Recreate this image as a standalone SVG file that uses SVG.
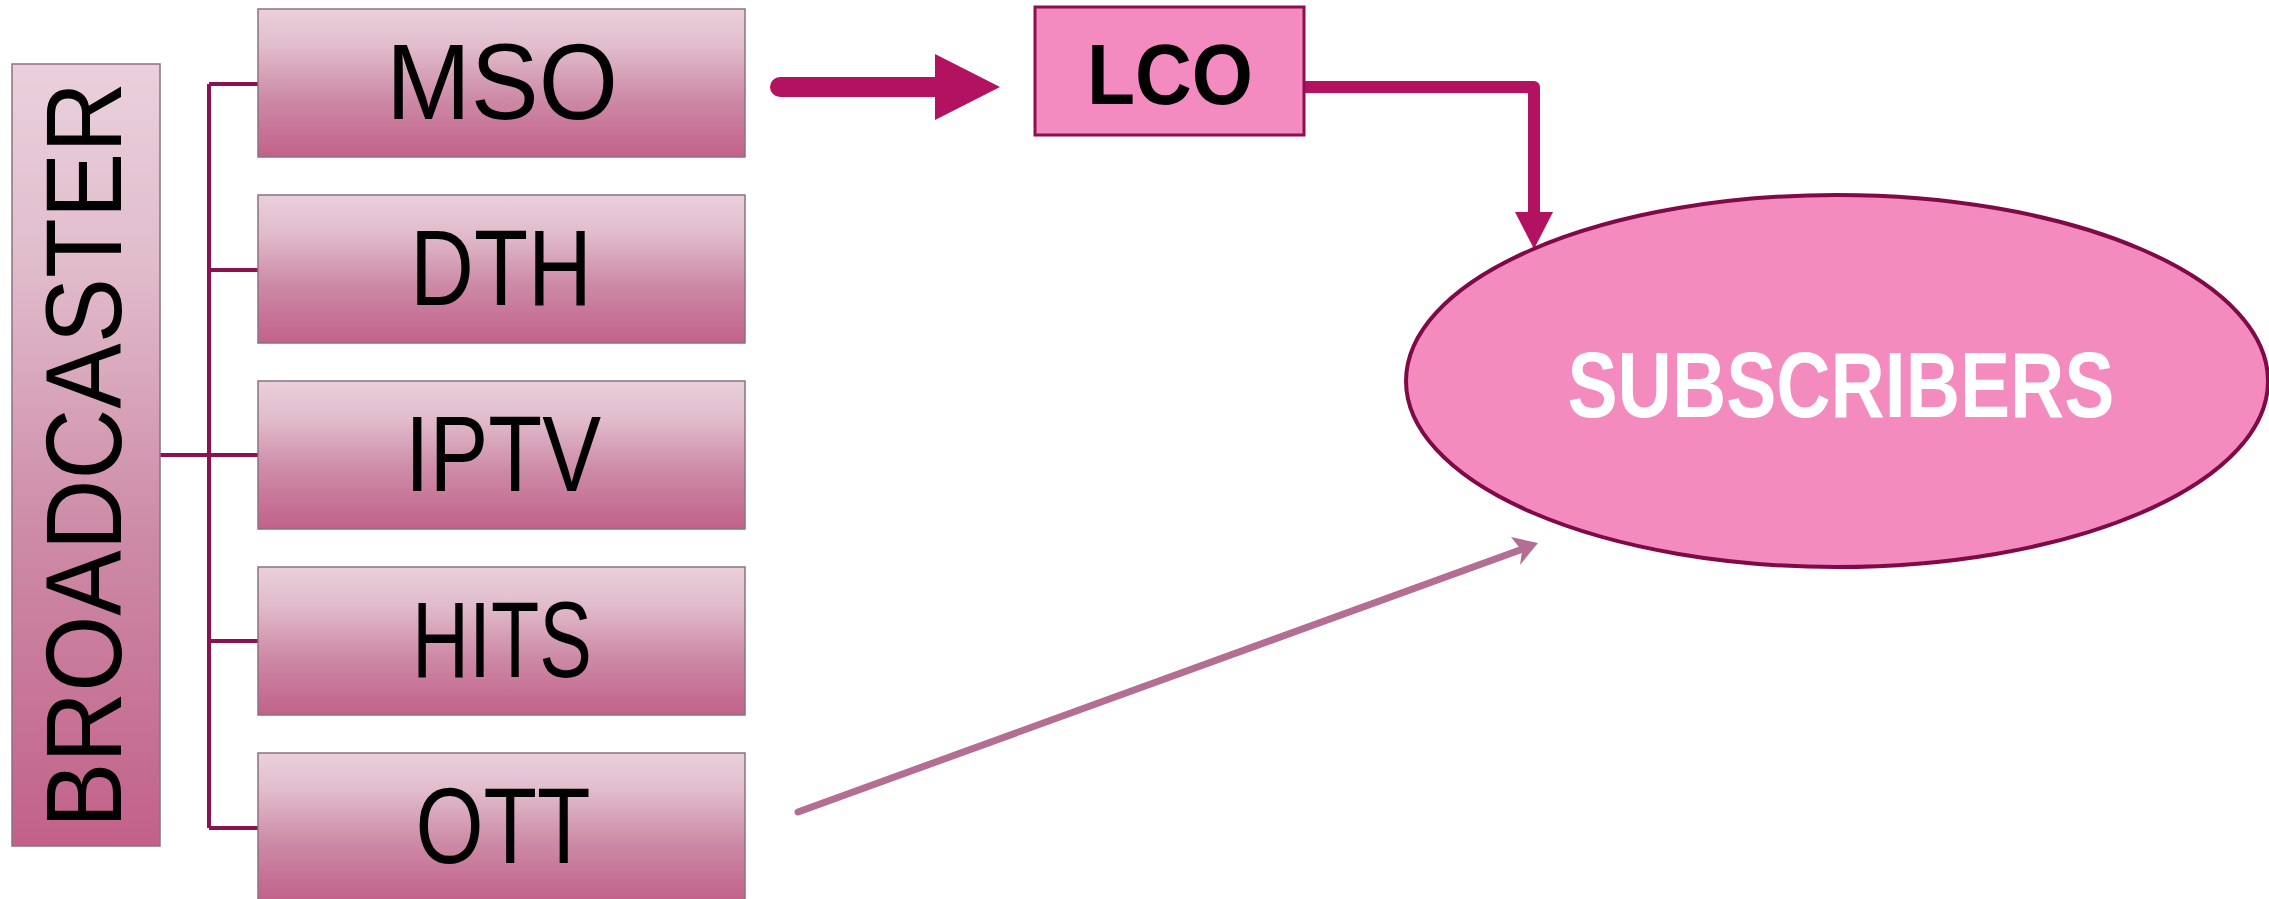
<svg xmlns="http://www.w3.org/2000/svg" width="2269" height="899" viewBox="0 0 2269 899">
  <defs>
    <linearGradient id="boxGrad" x1="0" y1="0" x2="0" y2="1">
      <stop offset="0" stop-color="#ead0dc"/>
      <stop offset="0.25" stop-color="#e1bdcc"/>
      <stop offset="0.6" stop-color="#cd8ba7"/>
      <stop offset="1" stop-color="#c2618a"/>
    </linearGradient>
    <style>
      .box { fill: url(#boxGrad); stroke: #8c7282; stroke-width: 1.5; }
      .lbl { font-family: "Liberation Sans", Arial, sans-serif; font-size: 107px; fill: #000; text-anchor: middle; }
      .tree { fill: none; stroke: #8b1252; stroke-width: 4; }
    </style>
  </defs>
  <rect width="2269" height="899" fill="#ffffff"/>

  <g id="connectors">
    <path class="tree" d="M160 455 H209 M209 84 V828 M209 84 H258 M209 270 H258 M209 455 H258 M209 641 H258 M209 828 H258"/>
    <!-- MSO to LCO thick arrow -->
    <line x1="780" y1="87" x2="940" y2="87" stroke="#b2125f" stroke-width="20" stroke-linecap="round"/>
    <polygon points="935,54 1000,87 935,120" fill="#b2125f"/>
    <!-- LCO to subscribers -->
    <path d="M1302 87 H1534 V216" fill="none" stroke="#b2125f" stroke-width="12" stroke-linejoin="round" stroke-linecap="round"/>
    <polygon points="1515,212 1553,212 1534,249" fill="#b2125f"/>
    <!-- OTT to subscribers -->
    <line x1="798" y1="812" x2="1520" y2="550" stroke="#b56e93" stroke-width="7" stroke-linecap="round"/>
    <polygon points="1511,537 1538,543 1520,565 1522,551" fill="#b56e93"/>
  </g>

  <g id="broadcaster">
    <rect class="box" x="12" y="64" width="148" height="782"/>
    <text class="lbl" transform="translate(121,828) rotate(-90)" x="0" y="0" style="text-anchor:start" textLength="746" lengthAdjust="spacingAndGlyphs">BROADCASTER</text>
  </g>

  <g id="mso">
    <rect class="box" x="258" y="9" width="487" height="148"/>
    <text class="lbl" x="502" y="119" textLength="232" lengthAdjust="spacingAndGlyphs">MSO</text>
  </g>
  <g id="dth">
    <rect class="box" x="258" y="195" width="487" height="148"/>
    <text class="lbl" x="501" y="305" textLength="182" lengthAdjust="spacingAndGlyphs">DTH</text>
  </g>
  <g id="iptv">
    <rect class="box" x="258" y="381" width="487" height="148"/>
    <text class="lbl" x="503" y="491" textLength="196" lengthAdjust="spacingAndGlyphs">IPTV</text>
  </g>
  <g id="hits">
    <rect class="box" x="258" y="567" width="487" height="148"/>
    <text class="lbl" x="502" y="677" textLength="180" lengthAdjust="spacingAndGlyphs">HITS</text>
  </g>
  <g id="ott">
    <rect class="box" x="258" y="753" width="487" height="148"/>
    <text class="lbl" x="503" y="863" textLength="175" lengthAdjust="spacingAndGlyphs">OTT</text>
  </g>

  <g id="lco">
    <rect x="1035" y="7" width="269" height="128" fill="#f48bc0" stroke="#8c0f4f" stroke-width="3"/>
    <text x="1170" y="104" font-family="Liberation Sans, Arial, sans-serif" font-weight="bold" font-size="86" fill="#000" text-anchor="middle" textLength="166" lengthAdjust="spacingAndGlyphs">LCO</text>
  </g>

  <g id="subscribers">
    <ellipse cx="1837" cy="381" rx="431" ry="186" fill="#f38bbf" stroke="#800a48" stroke-width="4"/>
    <text x="1841" y="417" font-family="Liberation Sans, Arial, sans-serif" font-weight="bold" font-size="93" fill="#ffffff" text-anchor="middle" textLength="547" lengthAdjust="spacingAndGlyphs">SUBSCRIBERS</text>
  </g>
</svg>
